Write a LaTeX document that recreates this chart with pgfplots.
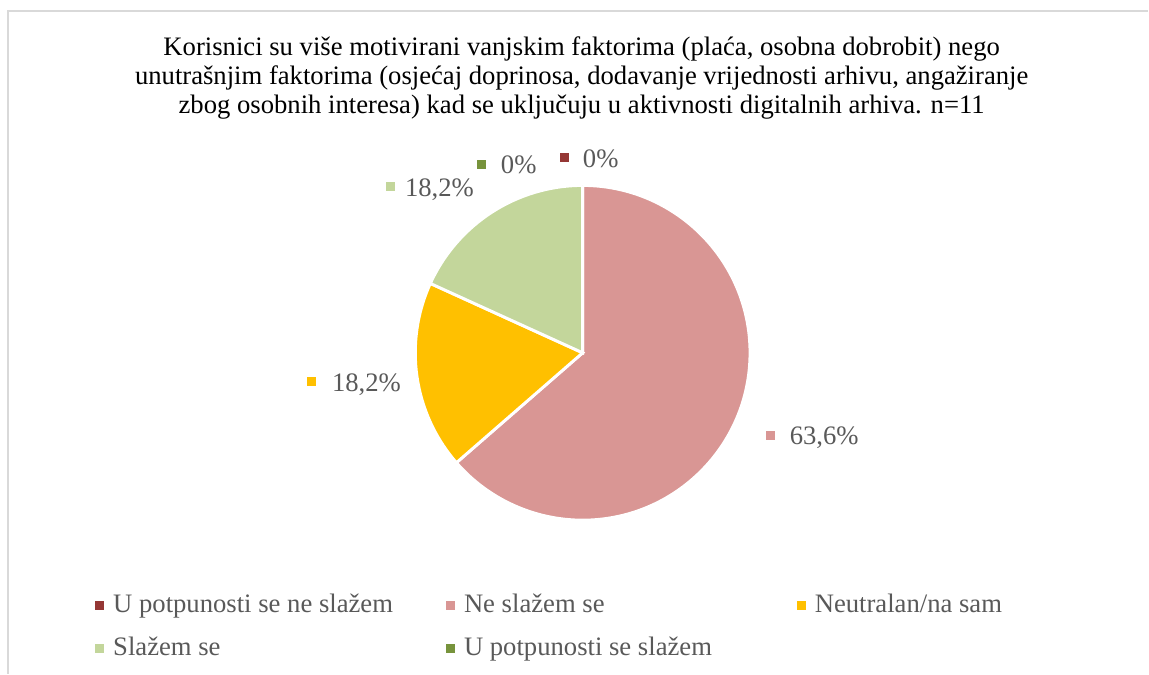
\documentclass[border=0pt]{standalone}
\usepackage{fontspec}
\setmainfont{Liberation Serif}
\usepackage{pgfplots}
\pgfplotsset{compat=1.18}
\usepackage{pgfplotstable}

\definecolor{cA}{HTML}{953735}
\definecolor{cB}{HTML}{D99694}
\definecolor{cC}{HTML}{FFC000}
\definecolor{cD}{HTML}{C3D69B}
\definecolor{cE}{HTML}{77933C}
\definecolor{txt}{HTML}{595959}
\definecolor{frm}{HTML}{D9D9D9}

% share of answers, in percent, n=11
\pgfplotstableread{
idx value
0 0
1 63.6
2 18.2
3 18.2
4 0
}\piedata

\newcommand\lblfont{\fontsize{20}{24}\selectfont}
\newcommand\ttlfont{\fontsize{20}{24}\selectfont}
\pgfkeys{/pgf/number format/.cd, assume math mode=true, use comma, precision=1}

\begin{document}
\begin{tikzpicture}
\pgfplotstablegetelem{0}{value}\of\piedata \pgfmathsetmacro\vA{\pgfplotsretval}
\pgfplotstablegetelem{1}{value}\of\piedata \pgfmathsetmacro\vB{\pgfplotsretval}
\pgfplotstablegetelem{2}{value}\of\piedata \pgfmathsetmacro\vC{\pgfplotsretval}
\pgfplotstablegetelem{3}{value}\of\piedata \pgfmathsetmacro\vD{\pgfplotsretval}
\pgfplotstablegetelem{4}{value}\of\piedata \pgfmathsetmacro\vE{\pgfplotsretval}
\pgfmathsetmacro\aA{90}
\pgfmathsetmacro\aB{\aA-3.6*\vA}
\pgfmathsetmacro\aC{\aB-3.6*\vB}
\pgfmathsetmacro\aD{\aC-3.6*\vC}
\pgfmathsetmacro\aE{\aD-3.6*\vD}
\pgfmathsetmacro\aF{\aE-3.6*\vE}
\def\R{125.6pt}
\begin{axis}[
    width=861.75pt, height=505.5pt, scale only axis,
    xmin=0, xmax=1149, ymin=0, ymax=674, y dir=reverse,
    hide axis, clip=false
]
% whole canvas, so the picture keeps its size
\path (axis cs:0,0) rectangle (axis cs:1149,674);
% frame
\draw[frm, line width=1pt] (axis cs:8,674) -- (axis cs:8,11) -- (axis cs:1149,11);

% title
\node[anchor=base, font=\ttlfont] at (axis cs:582,56) {Korisnici su više motivirani vanjskim faktorima (plaća, osobna dobrobit) nego};
\node[anchor=base, font=\ttlfont] at (axis cs:582,85) {unutrašnjim faktorima (osjećaj doprinosa, dodavanje vrijednosti arhivu, angažiranje};
\node[anchor=base, font=\ttlfont] at (axis cs:582,113.5) {zbog osobnih interesa) kad se uključuju u aktivnosti digitalnih arhiva. n=11};

% slices
\filldraw[fill=cA, draw=white, line width=2.2pt] (axis cs:583,353) -- ++(\aA:\R) arc[start angle=\aA, end angle=\aB, radius=\R] -- cycle;
\filldraw[fill=cB, draw=white, line width=2.2pt] (axis cs:583,353) -- ++(\aB:\R) arc[start angle=\aB, end angle=\aC, radius=\R] -- cycle;
\filldraw[fill=cC, draw=white, line width=2.2pt] (axis cs:583,353) -- ++(\aC:\R) arc[start angle=\aC, end angle=\aD, radius=\R] -- cycle;
\filldraw[fill=cD, draw=white, line width=2.2pt] (axis cs:583,353) -- ++(\aD:\R) arc[start angle=\aD, end angle=\aE, radius=\R] -- cycle;
\filldraw[fill=cE, draw=white, line width=2.2pt] (axis cs:583,353) -- ++(\aE:\R) arc[start angle=\aE, end angle=\aF, radius=\R] -- cycle;

% data labels
\fill[cA] (axis cs:560,153) rectangle (axis cs:569,162);
\node[anchor=base west, inner sep=0pt, text=txt, font=\lblfont] at (axis cs:583,168) {\pgfmathprintnumber{\vA}\%};
\fill[cE] (axis cs:477,160) rectangle (axis cs:486,169);
\node[anchor=base west, inner sep=0pt, text=txt, font=\lblfont] at (axis cs:501,174) {\pgfmathprintnumber{\vE}\%};
\fill[cD] (axis cs:386,182) rectangle (axis cs:395,191);
\node[anchor=base west, inner sep=0pt, text=txt, font=\lblfont] at (axis cs:405,197) {\pgfmathprintnumber{\vD}\%};
\fill[cC] (axis cs:307,377) rectangle (axis cs:316,386);
\node[anchor=base west, inner sep=0pt, text=txt, font=\lblfont] at (axis cs:332,392) {\pgfmathprintnumber{\vC}\%};
\fill[cB] (axis cs:766,431) rectangle (axis cs:775,440);
\node[anchor=base west, inner sep=0pt, text=txt, font=\lblfont] at (axis cs:790,445) {\pgfmathprintnumber{\vB}\%};

% legend
\fill[cA] (axis cs:95,601) rectangle (axis cs:104,610);
\node[anchor=base west, inner sep=0pt, text=txt, font=\lblfont] at (axis cs:113,613) {U potpunosti se ne slažem};
\fill[cB] (axis cs:446,601) rectangle (axis cs:455,610);
\node[anchor=base west, inner sep=0pt, text=txt, font=\lblfont] at (axis cs:464,613) {Ne slažem se};
\fill[cC] (axis cs:797,601) rectangle (axis cs:806,610);
\node[anchor=base west, inner sep=0pt, text=txt, font=\lblfont] at (axis cs:815,613) {Neutralan/na sam};
\fill[cD] (axis cs:95,644) rectangle (axis cs:104,653);
\node[anchor=base west, inner sep=0pt, text=txt, font=\lblfont] at (axis cs:113,656) {Slažem se};
\fill[cE] (axis cs:446,644) rectangle (axis cs:455,653);
\node[anchor=base west, inner sep=0pt, text=txt, font=\lblfont] at (axis cs:464,656) {U potpunosti se slažem};
\end{axis}
\end{tikzpicture}
\end{document}
